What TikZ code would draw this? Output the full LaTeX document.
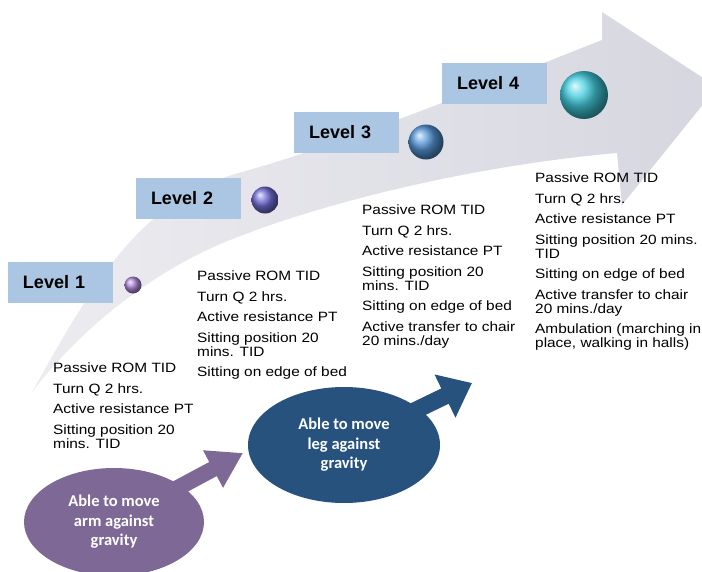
\documentclass[tikz,border=0pt]{standalone}
\usepackage{fontspec}
\setmainfont{Liberation Sans}
\newfontfamily\listfont[FakeStretch=1.14]{Liberation Sans}
\newfontfamily\ovalfont{Carlito}
\usetikzlibrary{shapes.geometric,arrows.meta}
\definecolor{levelblue}{RGB}{170,198,227}
\definecolor{armpurple}{RGB}{125,104,150}
\definecolor{legblue}{RGB}{38,82,125}
\definecolor{arrowlight}{RGB}{236,236,240}
\definecolor{arrowdark}{RGB}{214,214,224}
\definecolor{dotone}{RGB}{175,135,215}
\definecolor{dottwo}{RGB}{115,110,215}
\definecolor{dotthree}{RGB}{85,150,215}
\definecolor{dotfour}{RGB}{65,205,222}

\begin{document}
\begin{tikzpicture}[x=1pt, y=-1pt]
	\tikzstyle{levelbox} = [rectangle, fill=levelblue, minimum height=41pt, text width=75pt, inner xsep=15pt, inner ysep=0pt, align=left, font=\bfseries\fontsize{18}{20}\selectfont]
	\tikzstyle{dot} = [circle, inner sep=0pt]
	\tikzstyle{steplist} = [anchor=north west, inner sep=0pt, align=left, font=\listfont\fontsize{13.5}{14}\selectfont]
	\tikzstyle{oval} = [ellipse, inner sep=0pt, text=white, align=center, font=\ovalfont\bfseries\fontsize{16.5}{19.5}\selectfont]
	\useasboundingbox (0,0) rectangle (702,571);
	% big curved arrow
	\shade[left color=arrowlight, right color=arrowdark] (32,392) .. controls (95,280) and (140,200) .. (242,172) .. controls (344,144) and (500,80) .. (602,40) -- (602,12) -- (717,87) -- (622,205) -- (617,153) .. controls (480,165) and (330,200) .. (230,240) .. controls (150,272) and (80,330) .. cycle;
	% levels
	\node[levelbox] (level1) at (60.5, 282) {Level 1};
	\node[levelbox] (level2) at (188.5, 198) {Level 2};
	\node[levelbox] (level3) at (346.5, 132) {Level 3};
	\node[levelbox] (level4) at (494.5, 83.5) {Level 4};
	\node[dot, ball color=dotone, minimum size=17pt] (dot1) at (133, 285) {};
	\node[dot, ball color=dottwo, minimum size=27pt] (dot2) at (265, 200) {};
	\node[dot, ball color=dotthree, minimum size=35pt] (dot3) at (426, 142) {};
	\node[dot, ball color=dotfour, minimum size=48pt] (dot4) at (584, 95) {};
	% activities
	\node[steplist] (list1) at (53, 363) {Passive ROM TID\\[6.5pt] Turn Q 2 hrs.\\[6.5pt] Active resistance PT\\[6.5pt] Sitting position 20\\ mins. TID};
	\node[steplist] (list2) at (197, 271) {Passive ROM TID\\[6.5pt] Turn Q 2 hrs.\\[6.5pt] Active resistance PT\\[6.5pt] Sitting position 20\\ mins. TID\\[6.5pt] Sitting on edge of bed};
	\node[steplist] (list3) at (362, 205) {Passive ROM TID\\[6.5pt] Turn Q 2 hrs.\\[6.5pt] Active resistance PT\\[6.5pt] Sitting position 20\\ mins. TID\\[6.5pt] Sitting on edge of bed\\[6.5pt] Active transfer to chair\\ 20 mins./day};
	\node[steplist] (list4) at (535, 173) {Passive ROM TID\\[6.5pt] Turn Q 2 hrs.\\[6.5pt] Active resistance PT\\[6.5pt] Sitting position 20 mins.\\ TID\\[6.5pt] Sitting on edge of bed\\[6.5pt] Active transfer to chair\\ 20 mins./day\\[6.5pt] Ambulation (marching in\\ place, walking in halls)};
	% milestones
	\node[oval, fill=armpurple, minimum width=180pt, minimum height=108pt] (armoval) at (114, 522) {Able to move\\ arm against\\ gravity};
	\node[oval, fill=legblue, minimum width=192pt, minimum height=116pt] (legoval) at (344, 445) {Able to move\\ leg against\\ gravity};
	\coordinate (armtip) at (243, 453);
	\coordinate (legtip) at (472, 383);
	\draw[armpurple, line width=16pt, shorten <=-12pt, -{Triangle[length=34pt, width=40pt]}] (armoval) -- (armtip);
	\draw[legblue, line width=17pt, shorten <=-12pt, -{Triangle[length=30pt, width=46pt]}] (legoval) -- (legtip);
\end{tikzpicture}
\end{document}
